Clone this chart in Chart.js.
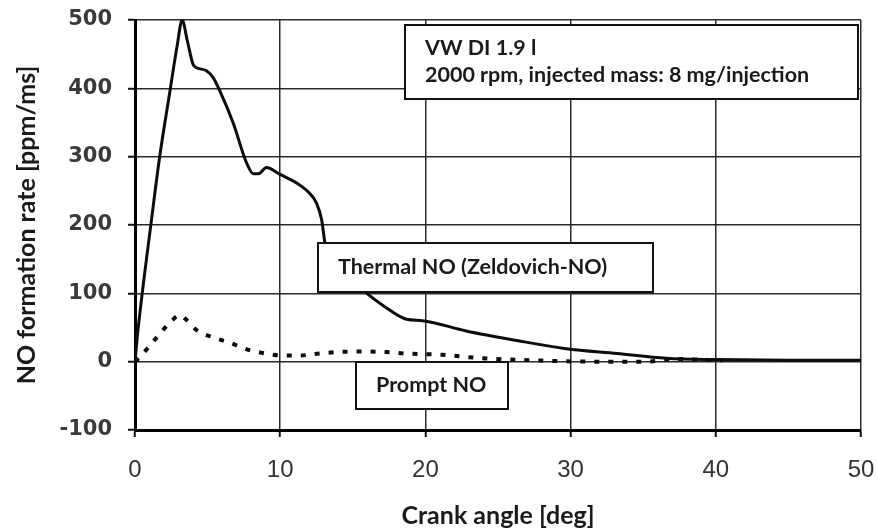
<!DOCTYPE html>
<html>
<head>
<meta charset="utf-8">
<script src="https://cdn.jsdelivr.net/npm/chart.js@4.4.1/dist/chart.umd.min.js"></script>
<style>
  html, body { margin: 0; padding: 0; background: #fff; }
  #wrap { width: 878px; height: 531px; position: relative; }
</style>
</head>
<body>
<div id="wrap"><canvas id="Chart"></canvas></div>
<script>
// crank angle [deg] and NO formation rate [ppm/ms]
var thermalAngle = [0, 0.2, 1.15, 1.7, 2.4, 2.9, 3.25, 3.6, 4.0, 4.25, 4.9, 5.4, 5.85, 6.75, 7.7, 8.15, 8.5, 9.05, 10.0, 11.1, 11.9, 12.5, 12.85, 13.1, 14.3, 15.8, 17.1, 18.7, 19.8, 22.8, 26.3, 29.7, 33.2, 36.6, 40, 45, 50];
var thermalNO = [0, 45, 210, 300, 395, 462, 500, 470, 435, 430, 426, 415, 396, 350, 290, 275, 275, 284, 274, 262, 249, 232, 208, 172, 132, 103, 82, 62, 60, 45, 31, 19, 12, 5, 3, 2, 2];

var promptAngle = [0, 0.4, 0.8, 1.6, 2.4, 3.1, 3.5, 4.2, 5.3, 6.5, 7.7, 9.0, 10.1, 11.3, 12.7, 13.9, 15.6, 17.3, 18.6, 21.1, 23.9, 27.3, 31.8, 35.3, 37.1, 38.7, 40.5];
var promptNO = [0, 8, 18, 38, 57, 68, 62, 47, 36, 28, 18, 12, 9, 9, 12, 14, 15, 14, 12, 10, 5, 2, 0, 0, 4, 3, 2];

var xTicks = [0, 10, 20, 30, 40, 50];
var yTicks = [-100, 0, 100, 200, 300, 400, 500];

var labelThermal = "Thermal NO (Zeldovich-NO)";
var labelPrompt = "Prompt NO";
var infoLines = ["VW DI 1.9 l", "2000 rpm, injected mass: 8 mg/injection"];

function pairs(xs, ys) {
  return xs.map(function (x, i) { return { x: x, y: ys[i] }; });
}

// text boxes, anchored in data units
var boxes = [
  { x0: 18.6, x1: 49.8, y0: 492, y1: 385, lines: infoLines, lead: 27 },
  { x0: 12.6, x1: 35.7, y0: 174, y1: 102, lines: [labelThermal], lead: 0 },
  { x0: 15.2, x1: 25.7, y0: 0, y1: -69, lines: [labelPrompt], lead: 0 },
];

var boxPlugin = {
  id: "boxes",
  afterDatasetsDraw: function (chart) {
    var ctx = chart.ctx, xs = chart.scales.x, ys = chart.scales.y;
    ctx.save();
    boxes.forEach(function (b) {
      var l = Math.round(xs.getPixelForValue(b.x0)), r = Math.round(xs.getPixelForValue(b.x1));
      var t = Math.round(ys.getPixelForValue(b.y0)), btm = Math.round(ys.getPixelForValue(b.y1));
      ctx.fillStyle = "#fff";
      ctx.fillRect(l, t, r - l, btm - t);
      ctx.strokeStyle = "#111";
      ctx.lineWidth = 2;
      ctx.strokeRect(l, t, r - l, btm - t);
      ctx.fillStyle = "#1a1a1a";
      ctx.font = "bold 21.5px Lato";
      ctx.textBaseline = "middle";
      ctx.textAlign = "left";
      var mid = (t + btm) / 2, n = b.lines.length;
      b.lines.forEach(function (s, i) {
        ctx.fillText(s, l + 20, mid + (i - (n - 1) / 2) * b.lead);
      });
    });
    ctx.restore();
  },
};

function initializeChart() {
  var ctx = document.getElementById("Chart").getContext("2d");
  if (window.myChart) window.myChart.destroy();

  window.myChart = new Chart(ctx, {
    type: "line",
    data: {
      datasets: [
        {
          label: labelThermal,
          data: pairs(thermalAngle, thermalNO),
          borderColor: "#0d0d0d",
          borderWidth: 3,
          pointRadius: 0,
          cubicInterpolationMode: "monotone",
        },
        {
          label: labelPrompt,
          data: pairs(promptAngle, promptNO),
          borderColor: "#0d0d0d",
          borderWidth: 4,
          borderDash: [5, 9],
          pointRadius: 0,
          cubicInterpolationMode: "monotone",
        },
      ],
    },
    options: {
      animation: false,
      responsive: true,
      maintainAspectRatio: false,
      layout: { padding: { top: 20, right: 17, left: 0, bottom: 0 } },
      scales: {
        x: {
          type: "linear",
          min: 0,
          max: 50,
          afterBuildTicks: function (s) { s.ticks = xTicks.map(function (v) { return { value: v }; }); },
          afterFit: function (s) { s.height = 101; s.paddingLeft = 0; s.paddingRight = 0; },
          grid: { color: "#2a2a2a", lineWidth: 1.5, tickLength: 7, tickColor: "#111", tickWidth: 2 },
          border: { color: "#000", width: 3 },
          ticks: { color: "#333", padding: 19, font: { size: 24, family: "Liberation Sans" } },
          title: {
            display: true,
            text: "Crank angle [deg]",
            color: "#1a1a1a",
            padding: { top: 0, bottom: 0 },
            font: { size: 25, weight: "bold", family: "Lato" },
          },
        },
        y: {
          min: -100,
          max: 500,
          afterBuildTicks: function (s) { s.ticks = yTicks.map(function (v) { return { value: v }; }); },
          afterFit: function (s) { s.width = 135; s.paddingTop = 0; s.paddingBottom = 0; },
          grid: { color: "#2a2a2a", lineWidth: 1.5, tickLength: 7, tickColor: "#111", tickWidth: 2 },
          border: { color: "#000", width: 3 },
          ticks: { color: "#3a3a3a", padding: 16, font: { size: 21, weight: "bold", family: "DejaVu Sans" } },
          title: {
            display: true,
            text: "NO formation rate [ppm/ms]",
            color: "#1a1a1a",
            padding: { top: 12, bottom: 0 },
            font: { size: 25, weight: "bold", family: "Lato" },
          },
        },
      },
      plugins: {
        legend: { display: false },
        tooltip: { enabled: false },
      },
    },
    plugins: [boxPlugin],
  });
}

window.onload = function () {
  initializeChart();
};
</script>
</body>
</html>
